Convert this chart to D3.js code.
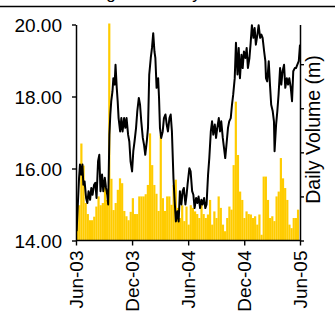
<!DOCTYPE html>
<html>
<head>
<meta charset="utf-8">
<script src="https://cdn.jsdelivr.net/npm/d3@7"></script>
<style>
  html, body { margin: 0; padding: 0; background: #fff; }
  svg { display: block; font-family: "Liberation Sans", Arial, sans-serif; }
</style>
</head>
<body>
<svg id="chart" width="335" height="311"></svg>
<script>
// ---- data ----
const startDate = "2003-06-01";
const xTickDates = ["2003-06-01", "2003-12-01", "2004-06-01", "2004-12-01", "2005-06-01"];
const levelTicks = [14, 16, 18, 20];
const volumeTicks = [0, 1, 2, 3, 4];
const titleText = "Dam Storage and Daily Yield";
const rightLabel = "Daily Volume (m)";

// water level (m): day offset from start, value
const levelDays = [2,6,10,13,17,21,24,28,33,37,41,46,50,54,59,63,67,72,76,80,85,89,94,98,102,105,109,112,115,119,122,126,129,133,136,139,144,148,152,157,161,165,170,174,178,183,187,191,196,200,205,209,213,218,222,226,231,235,239,244,248,252,256,259,263,268,271,274,278,283,287,292,296,300,305,309,313,318,322,326,331,335,339,344,348,352,357,361,364,
370,374,379,383,387,392,396,400,405,409,413,418,422,426,431,435,440,444,448,453,457,461,466,470,474,479,483,487,492,496,500,505,509,513,518,522,527,531,535,540,544,548,553,557,561,566,570,574,579,583,587,592,596,601,605,609,614,618,620,624,629,633,637,642,646,648,653,657,661,666,670,674,679,683,688,692,696,701,705,709,714,718,722,727,731];
const levelValues = [14.26,15.00,15.74,16.11,15.83,16.11,15.55,15.64,15.18,15.04,15.37,15.13,15.46,15.27,15.55,15.60,15.18,16.20,16.38,15.37,15.83,15.37,15.74,15.46,15.27,15.00,16.94,17.50,17.87,18.14,18.51,18.33,18.88,18.24,17.87,17.40,17.03,17.40,17.03,17.40,17.13,17.40,16.94,16.75,16.20,15.92,16.48,16.75,17.13,17.59,17.96,17.77,17.31,16.85,16.66,16.38,16.75,17.13,18.61,19.07,19.35,19.76,19.25,19.07,18.24,18.51,17.96,17.13,16.85,17.03,17.40,17.50,17.22,17.03,17.40,17.50,17.03,15.74,15.09,14.53,14.81,14.53,15.37,15.00,15.37,15.46,15.00,15.27,15.55,
16.01,15.92,15.37,15.27,14.90,15.18,15.04,15.22,14.90,15.13,15.00,15.18,14.90,15.00,15.83,16.29,17.03,17.31,16.94,17.22,16.85,17.13,17.40,17.03,17.31,16.85,16.57,16.29,16.75,17.13,17.31,17.40,17.77,18.05,18.51,19.49,18.61,19.35,18.51,19.16,18.79,19.25,19.07,19.35,18.79,19.07,19.49,19.98,19.63,19.90,19.44,19.72,19.98,19.63,19.72,19.63,19.25,18.98,18.51,18.42,18.98,18.33,17.77,17.59,17.31,16.48,17.22,17.59,18.05,18.79,18.33,18.70,18.88,18.24,18.51,18.33,18.51,18.24,17.87,18.70,18.79,18.79,18.88,18.98,19.44];

// weekly daily-volume bars (right axis)
const volumeValues = [0.5,0.8,2.2,1.7,0.85,0.6,0.46,0.46,0.54,0.77,1.0,0.8,0.85,1.37,0.92,4.95,1.4,0.69,0.85,1.15,1.41,1.3,0.67,0.55,0.46,0.65,0.96,0.6,0.6,1.0,1.0,1.0,1.05,1.26,2.43,1.71,1.26,1.06,0.67,2.4,0.96,0.67,1.0,1.0,0.81,1.26,1.38,0.74,0.51,0.8,0.44,0.77,
0.36,0.8,0.74,0.66,0.6,0.51,0.81,0.6,0.51,0.59,0.92,0.36,0.66,0.51,1.0,0.74,0.36,0.21,0.51,0.77,0.7,1.71,3.15,1.94,1.11,0.92,0.51,0.66,0.6,0.59,0.51,0.55,0.36,0.59,0.13,1.45,1.45,0.92,0.51,0.55,0.44,1.0,1.11,1.87,1.41,1.19,0.92,0.36,0.28,0.51,0.51,0.7];

// ---- layout ----
const parse = d3.utcParse("%Y-%m-%d");
const t0 = parse(startDate);
const svg = d3.select("#chart");
const mLeft = 76, mRight = 300, mTop = 24.5, mBottom = 240.5;
const FONT = 19;

const x = d3.scaleUtc().domain([parse(xTickDates[0]), parse(xTickDates[xTickDates.length - 1])]).range([mLeft, mRight]);
const y = d3.scaleLinear().domain([14, 20]).range([mBottom, mTop]);
const yR = d3.scaleLinear().domain([0, 4.9]).range([mBottom, mTop]);

// top title (mostly above the visible area) and rule
svg.append("text").attr("x", 25).attr("y", -1.5).attr("text-anchor", "start")
  .style("font-size", "17px").text(titleText);
svg.append("line").attr("x1", 0).attr("x2", 335).attr("y1", 6.5).attr("y2", 6.5)
  .attr("stroke", "#000").attr("stroke-width", 1.4);

// clip
svg.append("clipPath").attr("id", "plot").append("rect")
  .attr("x", mLeft).attr("y", mTop - 1).attr("width", mRight - mLeft).attr("height", mBottom - mTop + 1);

// bars
const barData = volumeValues.map((v, i) => ({ d: d3.utcDay.offset(t0, 7 * i), v }));
svg.append("g").attr("clip-path", "url(#plot)").selectAll("rect").data(barData).join("rect")
  .attr("x", d => x(d.d))
  .attr("width", d => x(d3.utcDay.offset(d.d, 7)) - x(d.d) + 0.05)
  .attr("y", d => yR(d.v))
  .attr("height", d => mBottom - yR(d.v))
  .attr("fill", "#FFCC00");

// line
const lineData = levelDays.map((dd, i) => ({ d: d3.utcDay.offset(t0, dd), v: levelValues[i] }));
svg.append("path").datum(lineData)
  .attr("clip-path", "url(#plot)")
  .attr("fill", "none").attr("stroke", "#000").attr("stroke-width", 2)
  .attr("stroke-linejoin", "round")
  .attr("d", d3.line().x(d => x(d.d)).y(d => y(d.v)));

// axes
const fmt = d3.utcFormat("%b-%y");
const gx = svg.append("g").attr("transform", `translate(0,${mBottom})`)
  .call(d3.axisBottom(x).tickValues(xTickDates.map(parse)).tickFormat(fmt).tickSize(5).tickSizeOuter(0).tickPadding(6));
gx.selectAll("text").attr("transform", "rotate(-90)").attr("text-anchor", "end")
  .attr("x", -10).attr("y", 0).attr("dy", "0.35em").style("font-size", FONT + "px");

const gy = svg.append("g").attr("transform", `translate(${mLeft},0)`)
  .call(d3.axisLeft(y).tickValues(levelTicks).tickFormat(d3.format(".2f")).tickSize(4).tickSizeOuter(0).tickPadding(10));
gy.selectAll("text").style("font-size", FONT + "px").attr("dy", "0.36em");

const gyr = svg.append("g").attr("transform", `translate(${mRight},0)`)
  .call(d3.axisRight(yR).tickValues(volumeTicks).tickFormat("").tickSize(4).tickSizeOuter(0));

[gx, gy, gyr].forEach(g => {
  g.select(".domain").attr("stroke", "#000").attr("stroke-width", 1.5);
  g.selectAll(".tick line").attr("stroke", "#000").attr("stroke-width", 1.4);
  g.selectAll("text").attr("fill", "#000").style("font-family", "'Liberation Sans', Arial, sans-serif");
});
gx.select(".domain").remove();
svg.append("line").attr("x1", mLeft).attr("x2", mRight).attr("y1", mBottom).attr("y2", mBottom)
  .attr("stroke", "#000").attr("stroke-width", 1.5);

// right axis label
svg.append("text")
  .attr("transform", `translate(320,129.5) rotate(-90)`)
  .attr("text-anchor", "middle")
  .style("font-size", "19.5px")
  .text(rightLabel);
</script>
</body>
</html>
